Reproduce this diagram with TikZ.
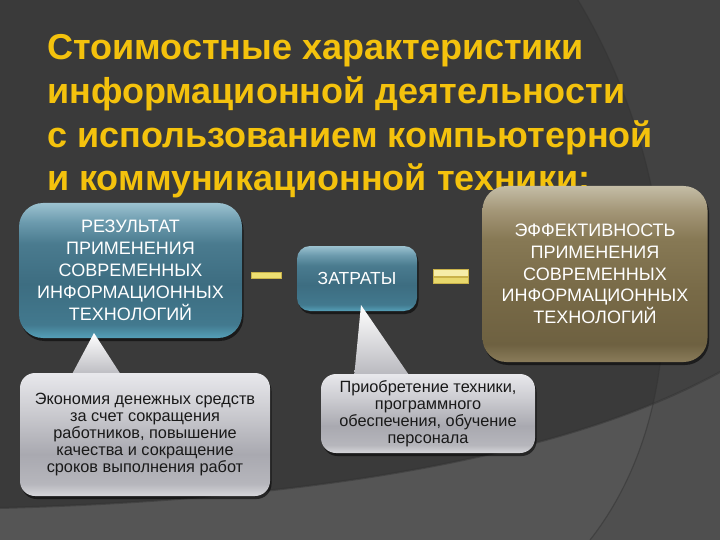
\documentclass[tikz,border=0pt]{standalone}
\usepackage{fontspec}
\setmainfont{Liberation Sans}
\usetikzlibrary{shadows}
\definecolor{bgbase}{HTML}{3A3A3A}
\definecolor{bgright}{HTML}{424242}
\definecolor{bgband}{HTML}{555555}
\definecolor{bgbandr}{HTML}{4F4F4F}
\definecolor{titley}{HTML}{F4C20D}
\definecolor{bl1}{HTML}{55A0B8}
\definecolor{bl2}{HTML}{42798E}
\definecolor{bl3}{HTML}{3D6D81}
\definecolor{bl4}{HTML}{4A7B8F}
\definecolor{bl5}{HTML}{6C9BAE}
\definecolor{bl6}{HTML}{9CC2D0}
\definecolor{br1}{HTML}{8A7C5A}
\definecolor{br2}{HTML}{6E6141}
\definecolor{br3}{HTML}{786A47}
\definecolor{br4}{HTML}{877955}
\definecolor{br5}{HTML}{A39677}
\definecolor{br6}{HTML}{C4BDA6}
\definecolor{gr1}{HTML}{D6D6DA}
\definecolor{gr2}{HTML}{B6B6BC}
\definecolor{gr3}{HTML}{A9A9B0}
\definecolor{gr4}{HTML}{CDCDD2}
\definecolor{gr5}{HTML}{E8E8EC}
\definecolor{bary}{HTML}{EEDF72}
\definecolor{baryl}{HTML}{F6EDA8}
\definecolor{barb}{HTML}{C9B24A}
\pgfdeclareverticalshading{blueshade}{100bp}{color(0bp)=(bl1); color(25bp)=(bl1); color(30bp)=(bl2); color(45bp)=(bl3); color(60bp)=(bl4); color(68bp)=(bl5); color(75bp)=(bl6); color(100bp)=(bl6)}
\pgfdeclareverticalshading{brownshade}{100bp}{color(0bp)=(br1); color(25bp)=(br1); color(30bp)=(br2); color(45bp)=(br3); color(60bp)=(br4); color(68bp)=(br5); color(75bp)=(br6); color(100bp)=(br6)}
\pgfdeclareverticalshading{greyshade}{100bp}{color(0bp)=(gr1); color(25bp)=(gr1); color(30bp)=(gr2); color(42bp)=(gr3); color(60bp)=(gr4); color(75bp)=(gr5); color(100bp)=(gr5)}
\tikzset{
  titleline/.style={anchor=base west, inner sep=0pt, text=titley, font=\fontsize{36}{42}\selectfont\bfseries},
  shadowed/.style={drop shadow={shadow xshift=1.5pt, shadow yshift=-3pt, opacity=0.55, fill=black}},
  bluebox/.style={shading=blueshade, rounded corners=#1, text=white, align=center, inner sep=0pt, shadowed},
  brownbox/.style={shading=brownshade, rounded corners=24pt, text=white, align=center, inner sep=0pt, shadowed,
    font=\fontsize{18}{21.8}\selectfont},
  boxtext/.style={font=\fontsize{18}{22}\selectfont},
  callout/.style={shading=greyshade, rounded corners=15pt, text=black!90, align=center, inner sep=0pt, shadowed,
    font=\fontsize{16.3}{17}\selectfont},
  calltri/.style={top color=white, bottom color=gr2, shadowed},
  opbar/.style={fill=#1, draw=barb, line width=0.6pt}
}
\begin{document}
\begin{tikzpicture}[x=1pt,y=-1pt]
\useasboundingbox (0,0) rectangle (720,540);
% background
\fill[bgbase] (0,0) rectangle (720,540);
\fill[bgright] (578,0) .. controls (680,170) and (700,400) .. (590,540) -- (720,540) -- (720,0) -- cycle;
\fill[bgband] (0,508) .. controls (300,500) and (560,460) .. (720,372) -- (720,540) -- (0,540) -- cycle;
\begin{scope}
\clip (0,508) .. controls (300,500) and (560,460) .. (720,372) -- (720,540) -- (0,540) -- cycle;
\fill[bgbandr] (578,0) .. controls (680,170) and (700,400) .. (590,540) -- (720,540) -- (720,0) -- cycle;
\end{scope}
\draw[black!80, opacity=0.5, line width=1.2pt] (578,0) .. controls (680,170) and (700,400) .. (590,540);
\draw[black!80, opacity=0.5, line width=2pt] (0,508) .. controls (300,500) and (560,460) .. (720,372);
% title
\node[titleline] (t1) at (47,60) {Стоимостные характеристики};
\node[titleline] (t2) at (47,103.7) {информационной деятельности};
\node[titleline] (t3) at (47,147.3) {с использованием компьютерной};
\node[titleline] (t4) at (47,191) {и коммуникационной техники:};
% boxes
\node[bluebox=24pt, boxtext, minimum width=223pt, minimum height=135pt] (res) at (130.5,270.5)
  {РЕЗУЛЬТАТ\\ПРИМЕНЕНИЯ\\СОВРЕМЕННЫХ\\ИНФОРМАЦИОННЫХ\\ТЕХНОЛОГИЙ};
\node[bluebox=13pt, font=\fontsize{17.5}{20}\selectfont, minimum width=120pt, minimum height=65pt] (cost) at (357,278.5) {ЗАТРАТЫ};
\node[brownbox, minimum width=225pt, minimum height=176pt] (eff) at (595,274)
  {ЭФФЕКТИВНОСТЬ\\ПРИМЕНЕНИЯ\\СОВРЕМЕННЫХ\\ИНФОРМАЦИОННЫХ\\ТЕХНОЛОГИЙ};
% operators
\node[opbar=bary, minimum width=30pt, minimum height=6pt, inner sep=0pt] (minus) at (266,275) {};
\node[opbar=baryl, minimum width=35pt, minimum height=7pt, inner sep=0pt] (eqa) at (450.5,272.5) {};
\node[opbar=bary!85!barb, minimum width=35pt, minimum height=6pt, inner sep=0pt] (eqb) at (450.5,280) {};
% callouts
\coordinate (ap1) at (94,333);
\coordinate (ap2) at (361,305);
\path[calltri] (70,378) -- (ap1) -- (123,378) -- cycle;
\node[callout, minimum width=250pt, minimum height=123pt] (c1) at (145,434.5)
  {Экономия денежных средств\\за счет сокращения\\работников, повышение\\качества и сокращение\\сроков выполнения работ};
\path[calltri] (354,378) -- (ap2) -- (411,378) -- cycle;
\node[callout, minimum width=214pt, minimum height=79pt] (c2) at (428,413.5)
  {Приобретение техники,\\программного\\обеспечения, обучение\\персонала};
\end{tikzpicture}
\end{document}
